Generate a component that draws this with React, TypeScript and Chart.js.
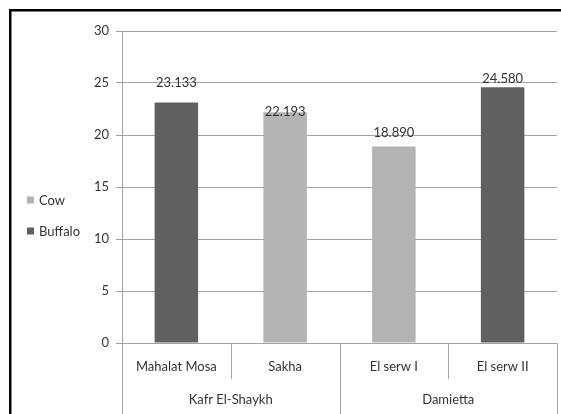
import React, { useEffect, useRef } from "react";
import { Chart, registerables } from "chart.js";

Chart.register(...registerables);

// ---- data ----
const sites = ["Mahalat Mosa", "Sakha", "El serw I", "El serw II"];
const regions = ["Kafr El-Shaykh", "Damietta"];
const regionSpans = [2, 2];
const seriesNames = ["Cow", "Buffalo"];
const cowValues: (number | null)[] = [null, 22.193, 18.89, null];
const buffaloValues: (number | null)[] = [23.133, null, null, 24.58];
const yMin = 0;
const yMax = 30;
const yStep = 5;

// ---- styles ----
const COLORS = ["#b3b3b3", "#606060"];
const FONT = "Lato, 'Liberation Sans', sans-serif";
const TEXT = "#333333";
const GRID = "#a3a3a3";
const labelLift = [19.5, 0, 14, 9];

const decorPlugin = {
  id: "decor",
  beforeDraw(chart: any) {
    const ctx = chart.ctx;
    ctx.save();
    ctx.strokeStyle = "#000";
    ctx.lineWidth = 2.5;
    ctx.beginPath();
    ctx.moveTo(10.25, chart.height);
    ctx.lineTo(10.25, 10.25);
    ctx.lineTo(chart.width, 10.25);
    ctx.stroke();
    ctx.restore();
  },
  afterDatasetsDraw(chart: any) {
    const ctx = chart.ctx;
    ctx.save();
    ctx.font = `13px ${FONT}`;
    ctx.fillStyle = TEXT;
    ctx.textAlign = "center";
    ctx.textBaseline = "middle";
    chart.data.datasets.forEach((ds: any, di: number) => {
      const meta = chart.getDatasetMeta(di);
      ds.data.forEach((v: number | null, i: number) => {
        if (v === null || v === undefined) return;
        const el = meta.data[i];
        if (!el) return;
        ctx.fillText(v.toFixed(3), el.x, el.y - labelLift[i]);
      });
    });
    ctx.restore();
  },
  afterDraw(chart: any) {
    const ctx = chart.ctx;
    const ca = chart.chartArea;
    const xs = chart.scales.x;
    const n = sites.length;
    const w = (ca.right - ca.left) / n;
    const bottom = chart.height;
    const row1 = ca.bottom + 36;
    ctx.save();
    ctx.strokeStyle = GRID;
    ctx.lineWidth = 1;
    // boundaries
    const groupEdges = new Set<number>();
    let acc = 0;
    groupEdges.add(0);
    regionSpans.forEach((s) => {
      acc += s;
      groupEdges.add(acc);
    });
    for (let k = 0; k <= n; k++) {
      const px = Math.round(xs.getPixelForValue(0) - w / 2 + k * w) + 0.5;
      const yEnd = groupEdges.has(k) ? bottom : row1;
      ctx.beginPath();
      ctx.moveTo(px, ca.bottom);
      ctx.lineTo(px, yEnd);
      ctx.stroke();
    }
    ctx.font = `13px ${FONT}`;
    ctx.fillStyle = TEXT;
    ctx.textAlign = "center";
    ctx.textBaseline = "middle";
    sites.forEach((s, i) => {
      ctx.fillText(s, xs.getPixelForValue(i), ca.bottom + 24);
    });
    let start = 0;
    regions.forEach((r, gi) => {
      const span = regionSpans[gi];
      const x0 = xs.getPixelForValue(start) - w / 2;
      const cx = x0 + (span * w) / 2;
      ctx.fillText(r, cx, ca.bottom + 57);
      start += span;
    });
    // legend
    const legendY = [200, 231];
    seriesNames.forEach((name, i) => {
      ctx.fillStyle = COLORS[i];
      ctx.fillRect(27, legendY[i] - 3.5, 7, 7);
      ctx.fillStyle = TEXT;
      ctx.textAlign = "left";
      ctx.fillText(name, 39, legendY[i] + 0.5);
    });
    ctx.restore();
  },
};

export default function App() {
  const ref = useRef<HTMLCanvasElement | null>(null);
  useEffect(() => {
    if (!ref.current) return;
    const chart = new Chart(ref.current, {
      type: "bar",
      data: {
        labels: sites,
        datasets: [
          {
            label: seriesNames[0],
            data: cowValues,
            backgroundColor: COLORS[0],
            skipNull: true,
          } as any,
          {
            label: seriesNames[1],
            data: buffaloValues,
            backgroundColor: COLORS[1],
            skipNull: true,
          } as any,
        ],
      },
      options: {
        animation: false,
        responsive: true,
        maintainAspectRatio: false,
        layout: { padding: { top: 31, bottom: 71, left: 0, right: 4 } },
        datasets: { bar: { barPercentage: 0.5, categoryPercentage: 0.8 } },
        plugins: {
          legend: { display: false },
          tooltip: { enabled: false },
        },
        scales: {
          x: { display: false },
          y: {
            min: yMin,
            max: yMax,
            afterFit: (s: any) => {
              s.width = 122;
            },
            ticks: {
              stepSize: yStep,
              padding: 7,
              color: TEXT,
              font: { family: FONT, size: 13 },
            },
            grid: { color: GRID, tickLength: 6, lineWidth: 1 },
            border: { display: true, color: GRID, width: 1 },
          },
        },
      },
      plugins: [decorPlugin],
    });
    return () => chart.destroy();
  }, []);
  return (
    <div style={{ position: "absolute", left: 0, top: 0, width: 561, height: 414, background: "#fff" }}>
      <canvas ref={ref} />
    </div>
  );
}
